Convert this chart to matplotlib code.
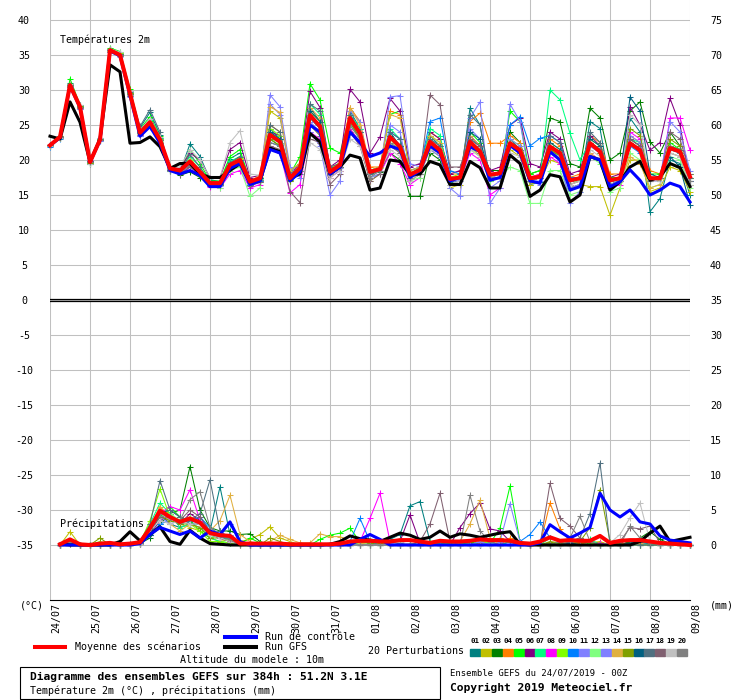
import numpy as np
import matplotlib
matplotlib.use("Agg")
import matplotlib.pyplot as plt
import matplotlib.transforms as mtransforms
from matplotlib.lines import Line2D
from matplotlib.patches import Rectangle

plt.rcParams['font.family'] = ['DejaVu Sans Mono']
plt.rcParams['font.size'] = 7.2

# echeances toutes les 6h sur 384h
hours = np.arange(0, 385, 6)
days = ["24/07", "25/07", "26/07", "27/07", "28/07", "29/07", "30/07", "31/07",
        "01/08", "02/08", "03/08", "04/08", "05/08", "06/08", "07/08", "08/08", "09/08"]

member_colors = ["#008080", "#c0c000", "#008000", "#ff8000", "#00ff00",
                 "#800080", "#00ff80", "#ff00ff", "#80ff00", "#0080ff",
                 "#8080ff", "#80ff80", "#8080ff", "#e0b040", "#80a000",
                 "#006080", "#507080", "#806070", "#c0c0c0", "#808080"]

# temperature 2m (degC)
temp_mean = [22.1, 23.3, 30.7, 27.6, 19.7, 22.9, 35.7, 35.0, 29.5, 23.9, 25.4, 22.9,
             18.8, 18.5, 19.8, 18.3, 16.7, 16.7, 19.3, 20.0, 16.9, 17.4,
             23.6, 22.6, 17.4, 18.9, 26.4, 24.8, 18.3, 19.3, 26.0, 23.8, 18.3, 18.7,
             23.3, 21.9, 17.9, 18.6, 22.6, 21.4, 17.3, 17.5, 22.6, 21.2, 17.9, 18.1,
             22.4, 21.4, 17.4, 17.6, 21.9, 21.0, 17.1, 17.4, 22.4, 21.2, 17.1, 17.4,
             22.4, 21.4, 17.4, 17.4, 21.7, 21.2, 17.6]
temp_ctrl = [22.1, 23.2, 30.6, 27.5, 19.7, 22.8, 35.6, 34.9, 29.2, 23.4, 24.8, 22.4,
             18.5, 18.0, 18.5, 17.8, 16.2, 16.2, 18.8, 19.5, 16.5, 17.0,
             21.5, 21.0, 17.0, 18.3, 25.0, 24.0, 18.0, 19.0, 24.0, 22.5, 20.5, 21.0,
             22.0, 21.5, 17.5, 18.5, 22.0, 21.0, 17.0, 17.5, 21.9, 21.2, 17.1, 17.5,
             22.1, 21.0, 17.0, 16.7, 21.2, 20.0, 15.7, 16.2, 20.5, 20.0, 16.2, 16.9,
             18.6, 17.1, 15.0, 15.7, 16.7, 16.2, 14.0]
temp_gfs = [23.4, 23.0, 28.3, 25.4, 19.7, 23.0, 33.6, 32.6, 22.4, 22.5, 23.3, 21.9,
            18.8, 19.5, 19.5, 18.0, 17.5, 17.5, 18.5, 19.5, 17.0, 17.0,
            21.7, 21.2, 17.4, 18.0, 23.8, 22.6, 18.0, 19.0, 20.7, 20.3, 15.7, 16.0,
            20.0, 19.8, 17.9, 18.0, 19.8, 19.3, 16.5, 16.5, 19.8, 18.9, 16.0, 16.0,
            20.7, 19.5, 14.8, 15.7, 17.9, 17.6, 14.0, 15.0, 20.5, 20.0, 15.7, 16.9,
            19.0, 19.8, 17.1, 17.6, 19.5, 18.9, 16.2]
temp_pert = [
    # 01
    [22.0, 23.1, 31.0, 27.9, 19.6, 23.1, 35.9, 35.3, 29.8, 24.6, 26.8, 23.6,
     18.5, 18.3, 22.3, 20.5, 17.2, 16.9, 20.2, 21.0, 17.2, 17.0,
     24.5, 23.0, 17.0, 18.0, 27.5, 25.5, 18.8, 19.0, 27.0, 24.5, 18.0, 18.5,
     24.0, 22.0, 17.5, 18.0, 23.5, 22.0, 16.8, 17.0, 27.4, 25.0, 17.0, 17.5,
     23.0, 21.5, 16.5, 16.8, 22.0, 20.5, 16.0, 16.5, 25.5, 24.5, 16.5, 17.0,
     26.0, 24.0, 12.6, 14.5, 20.0, 19.5, 15.0],
    # 02
    [22.2, 23.4, 30.5, 27.4, 19.9, 22.8, 35.6, 34.9, 29.3, 23.7, 25.0, 22.6,
     18.7, 18.0, 19.0, 18.0, 16.4, 16.5, 19.0, 19.5, 16.5, 17.0,
     27.0, 26.0, 18.5, 19.5, 25.0, 23.5, 17.5, 18.5, 24.5, 22.5, 17.0, 18.0,
     22.5, 21.0, 17.0, 18.0, 21.5, 20.5, 16.0, 16.5, 22.0, 20.5, 17.0, 17.5,
     21.5, 20.5, 16.5, 17.0, 20.0, 19.5, 16.0, 16.5, 16.2, 16.2, 12.1, 16.0,
     20.0, 20.0, 15.5, 16.0, 19.0, 18.5, 15.5],
    # 03
    [22.0, 23.2, 30.8, 27.7, 19.7, 22.9, 35.8, 35.2, 29.6, 24.0, 25.6, 23.0,
     18.9, 17.8, 18.3, 17.5, 16.5, 16.5, 18.8, 19.0, 16.5, 16.8,
     23.0, 22.0, 17.2, 18.5, 26.0, 24.5, 18.0, 19.0, 25.5, 23.0, 18.0, 18.3,
     21.0, 20.0, 14.8, 14.8, 21.0, 20.0, 17.0, 17.5, 23.0, 22.0, 18.5, 18.5,
     24.0, 22.5, 18.0, 18.5, 26.0, 25.5, 19.5, 19.0, 27.4, 26.0, 20.0, 21.0,
     27.0, 28.3, 22.6, 21.0, 24.0, 22.0, 17.0],
    # 04
    [22.1, 23.3, 30.6, 27.5, 19.8, 23.0, 35.7, 35.1, 29.5, 23.8, 25.3, 22.8,
     18.6, 18.3, 19.6, 18.2, 16.6, 16.6, 19.5, 20.5, 17.0, 17.5,
     25.0, 24.0, 17.5, 19.0, 27.0, 25.5, 18.5, 19.5, 27.5, 25.5, 19.0, 19.0,
     27.0, 26.5, 18.5, 19.0, 24.0, 23.0, 18.0, 18.0, 25.5, 26.7, 22.4, 22.4,
     23.5, 22.5, 17.5, 18.0, 23.0, 22.0, 17.5, 18.0, 23.5, 22.5, 18.0, 18.0,
     23.5, 22.5, 18.5, 18.0, 22.0, 21.5, 17.5],
    # 05
    [22.0, 23.1, 31.6, 27.9, 19.5, 23.0, 36.0, 35.5, 30.2, 24.4, 26.2, 23.4,
     18.8, 18.5, 21.5, 19.5, 17.0, 17.0, 20.5, 21.5, 16.8, 17.5,
     23.5, 22.5, 18.0, 20.5, 30.9, 28.6, 21.7, 21.0, 26.5, 24.0, 18.5, 19.0,
     26.5, 27.0, 18.0, 19.0, 23.0, 22.0, 17.5, 17.5, 24.0, 22.5, 17.5, 18.0,
     27.0, 25.5, 18.0, 18.5, 21.5, 20.5, 17.0, 17.0, 22.0, 21.5, 17.5, 17.5,
     23.0, 22.0, 18.0, 18.0, 22.5, 21.5, 18.0],
    # 06
    [22.2, 23.3, 30.7, 27.6, 19.8, 22.9, 35.6, 35.0, 29.4, 24.2, 25.8, 23.2,
     19.0, 18.8, 21.0, 20.0, 17.5, 17.5, 21.5, 22.5, 17.5, 17.8,
     24.0, 23.5, 18.0, 19.5, 29.8, 27.5, 19.0, 20.0, 30.1, 28.3, 21.0, 23.3,
     28.8, 27.0, 19.0, 19.5, 24.0, 23.0, 18.0, 18.5, 23.5, 22.0, 18.5, 19.0,
     25.0, 26.0, 19.5, 19.0, 24.0, 23.0, 18.0, 18.5, 23.5, 22.0, 17.5, 18.0,
     27.6, 25.0, 21.4, 22.5, 28.8, 25.0, 17.0],
    # 07
    [22.0, 23.2, 30.9, 27.7, 19.6, 23.0, 35.8, 35.2, 29.7, 24.1, 25.7, 23.1,
     18.7, 18.4, 20.5, 19.0, 16.8, 16.8, 19.8, 20.5, 16.9, 17.3,
     24.0, 23.0, 17.5, 19.0, 28.0, 26.5, 18.5, 19.5, 26.5, 24.5, 18.5, 19.0,
     24.5, 23.0, 17.5, 18.5, 24.5, 23.5, 17.0, 17.5, 23.0, 22.0, 17.5, 18.0,
     22.5, 21.5, 17.0, 17.5, 30.0, 28.6, 23.8, 20.0, 22.5, 21.5, 17.0, 17.5,
     23.0, 22.5, 17.5, 17.0, 21.5, 21.0, 17.5],
    # 08
    [22.1, 23.3, 30.6, 27.4, 19.7, 22.8, 35.7, 35.0, 29.3, 23.6, 25.0, 22.5,
     18.6, 18.0, 19.0, 17.8, 16.2, 16.0, 18.0, 18.5, 16.0, 16.5,
     22.0, 21.0, 15.3, 16.5, 24.0, 23.0, 17.5, 18.5, 24.5, 22.5, 17.5, 18.0,
     21.0, 19.5, 16.5, 17.5, 22.0, 21.0, 16.5, 17.0, 21.0, 20.0, 15.0, 16.0,
     22.5, 21.5, 17.5, 18.0, 20.5, 19.5, 16.5, 17.0, 21.0, 20.0, 16.0, 16.5,
     24.0, 23.0, 17.5, 17.0, 26.0, 26.0, 21.4],
    # 09
    [22.2, 23.4, 30.8, 27.6, 19.6, 23.0, 35.9, 35.3, 29.6, 24.0, 25.5, 23.0,
     18.9, 18.6, 20.0, 18.5, 16.8, 16.9, 19.4, 20.3, 17.0, 17.6,
     24.5, 23.5, 17.8, 19.2, 27.0, 25.5, 18.8, 19.6, 25.5, 23.5, 18.5, 18.8,
     23.0, 21.5, 18.0, 18.5, 23.5, 22.5, 17.5, 18.0, 22.5, 21.5, 18.0, 18.0,
     23.0, 22.0, 17.0, 17.5, 22.5, 21.5, 17.5, 17.5, 23.0, 22.0, 17.0, 17.5,
     22.5, 21.5, 17.0, 17.5, 22.0, 21.5, 18.0],
    # 10
    [21.9, 23.0, 30.5, 27.3, 19.8, 22.7, 35.5, 34.8, 29.2, 23.5, 24.8, 22.4,
     18.4, 18.2, 19.5, 18.0, 16.3, 16.4, 19.0, 19.8, 16.5, 17.0,
     22.5, 22.0, 17.5, 18.5, 26.0, 24.5, 18.0, 19.0, 25.0, 23.0, 18.0, 18.5,
     24.0, 23.0, 18.5, 19.0, 25.5, 26.0, 18.5, 18.0, 23.0, 22.0, 17.5, 18.0,
     25.0, 26.2, 22.0, 23.1, 23.5, 22.5, 17.5, 17.5, 22.5, 21.5, 17.0, 17.0,
     22.0, 21.0, 17.0, 17.5, 21.5, 21.0, 17.0],
    # 11
    [22.1, 23.2, 30.9, 27.8, 19.5, 23.1, 35.8, 35.1, 29.5, 23.9, 25.4, 22.8,
     18.6, 18.2, 19.4, 18.4, 16.5, 16.3, 19.2, 20.0, 16.6, 17.2,
     29.3, 27.6, 19.0, 17.5, 24.0, 22.0, 15.0, 17.0, 27.0, 25.5, 17.5, 18.0,
     29.0, 29.2, 19.5, 19.0, 21.5, 20.5, 16.0, 14.8, 26.0, 28.3, 13.8, 16.0,
     28.0, 25.5, 17.0, 16.5, 21.0, 20.0, 16.0, 16.5, 22.0, 21.0, 16.5, 17.0,
     22.5, 21.5, 17.0, 17.0, 21.0, 20.5, 16.5],
    # 12
    [22.0, 23.1, 30.7, 27.5, 19.6, 22.9, 35.6, 34.9, 29.3, 23.8, 25.2, 22.7,
     18.5, 18.2, 20.2, 18.6, 16.5, 16.0, 18.5, 19.0, 14.8, 16.0,
     23.0, 22.5, 17.0, 18.5, 26.5, 25.0, 18.0, 19.0, 25.0, 23.0, 17.5, 18.0,
     22.5, 21.0, 17.0, 17.5, 22.0, 21.0, 16.5, 17.0, 21.5, 20.5, 17.0, 17.5,
     19.0, 18.5, 13.8, 13.8, 18.5, 18.5, 15.0, 15.5, 20.5, 19.5, 15.5, 16.0,
     21.0, 20.0, 16.0, 16.5, 20.5, 20.0, 16.0],
    # 13
    [22.2, 23.3, 30.4, 27.3, 20.0, 22.7, 35.4, 34.7, 29.0, 23.4, 24.7, 22.3,
     18.7, 18.4, 19.2, 18.0, 16.4, 16.6, 19.5, 20.0, 16.8, 17.4,
     28.0, 26.5, 18.0, 19.0, 25.5, 24.0, 17.8, 18.8, 26.0, 23.5, 17.5, 18.0,
     25.0, 24.0, 17.5, 18.0, 23.0, 22.0, 17.0, 17.0, 24.5, 23.0, 16.0, 17.0,
     23.0, 22.0, 17.0, 17.0, 21.0, 20.0, 13.8, 15.5, 22.0, 21.0, 16.5, 17.0,
     23.5, 22.5, 17.5, 17.5, 25.5, 24.0, 18.5],
    # 14
    [22.1, 23.2, 30.6, 27.5, 19.7, 22.9, 35.6, 35.0, 29.4, 23.8, 25.2, 22.8,
     18.8, 18.4, 19.8, 18.4, 16.7, 16.8, 19.5, 20.2, 17.0, 17.8,
     27.6, 26.8, 18.5, 19.5, 27.5, 26.0, 19.0, 19.5, 27.5, 25.0, 18.5, 19.0,
     26.5, 26.0, 18.5, 19.0, 23.5, 22.5, 17.5, 17.5, 23.5, 22.0, 18.0, 18.0,
     22.0, 21.0, 17.0, 17.5, 22.0, 21.0, 17.0, 17.5, 21.0, 20.0, 16.5, 17.0,
     20.5, 19.5, 16.0, 16.5, 21.0, 20.5, 16.5],
    # 15
    [22.0, 23.2, 30.8, 27.7, 19.6, 22.9, 35.8, 35.1, 29.6, 24.0, 25.5, 22.9,
     18.8, 18.5, 19.6, 18.2, 16.6, 16.7, 19.0, 19.6, 16.7, 17.2,
     23.0, 22.0, 17.0, 18.5, 26.5, 25.0, 18.0, 19.0, 25.5, 23.0, 18.0, 18.5,
     23.5, 22.0, 17.5, 18.5, 22.5, 21.5, 17.0, 17.5, 22.0, 21.0, 17.5, 17.5,
     22.5, 21.5, 17.0, 17.5, 21.5, 20.5, 16.5, 17.0, 22.5, 21.0, 16.5, 17.0,
     24.5, 23.5, 17.5, 17.0, 23.0, 22.0, 17.5],
    # 16
    [22.1, 23.3, 30.7, 27.6, 19.7, 22.9, 35.7, 35.0, 29.5, 23.9, 25.3, 22.9,
     18.6, 18.3, 19.5, 18.3, 16.6, 16.6, 19.3, 20.0, 16.8, 17.4,
     24.0, 23.0, 17.5, 18.5, 27.0, 25.5, 18.5, 19.0, 26.0, 24.0, 18.0, 18.5,
     23.5, 22.0, 17.5, 18.5, 22.0, 21.0, 17.0, 17.5, 24.0, 23.0, 17.5, 17.5,
     22.0, 21.0, 17.0, 17.5, 22.5, 21.5, 17.0, 17.5, 23.0, 22.0, 16.5, 17.0,
     29.0, 27.0, 18.0, 17.5, 20.5, 19.0, 13.6],
    # 17
    [22.0, 23.2, 30.6, 27.6, 19.5, 23.0, 35.8, 35.2, 29.7, 24.8, 27.2, 24.0,
     18.6, 18.4, 20.8, 19.0, 16.8, 16.7, 19.6, 20.5, 17.0, 17.5,
     25.0, 24.0, 18.0, 19.0, 28.0, 27.0, 19.0, 19.5, 26.5, 24.0, 18.0, 18.5,
     24.0, 23.0, 18.0, 18.5, 23.0, 22.0, 17.5, 17.5, 26.5, 25.0, 17.5, 17.5,
     22.5, 21.5, 17.5, 17.5, 23.5, 22.5, 17.0, 17.5, 24.0, 22.5, 17.0, 17.5,
     23.0, 22.0, 17.0, 17.5, 22.0, 21.5, 17.5],
    # 18
    [22.2, 23.4, 30.5, 27.4, 19.9, 22.8, 35.5, 34.8, 29.2, 23.6, 24.9, 22.5,
     18.6, 18.0, 19.0, 18.0, 16.3, 16.4, 18.8, 19.5, 16.3, 16.8,
     22.0, 21.5, 15.5, 13.9, 23.0, 22.5, 16.5, 18.0, 24.0, 22.0, 17.0, 18.0,
     22.0, 21.0, 17.0, 18.0, 29.3, 27.9, 19.0, 19.0, 23.0, 22.0, 18.0, 18.0,
     22.0, 21.0, 17.0, 17.5, 22.0, 21.0, 17.0, 17.5, 22.5, 21.5, 17.0, 17.5,
     23.0, 22.0, 17.5, 17.5, 24.0, 23.0, 18.0],
    # 19
    [22.0, 23.1, 30.8, 27.8, 19.4, 23.1, 35.9, 35.4, 29.9, 24.3, 25.9, 23.3,
     18.9, 19.0, 21.5, 20.0, 17.5, 17.5, 22.5, 24.2, 18.0, 17.8,
     21.5, 21.0, 17.5, 18.5, 22.5, 21.5, 17.5, 18.5, 23.0, 22.0, 17.5, 18.5,
     21.5, 20.5, 17.0, 18.0, 21.5, 21.0, 16.5, 17.0, 21.5, 20.5, 17.5, 18.0,
     21.0, 20.5, 17.0, 17.5, 21.0, 20.5, 16.5, 17.0, 21.5, 20.5, 16.5, 17.0,
     26.5, 25.0, 17.0, 17.0, 21.0, 20.5, 16.5],
    # 20
    [22.1, 23.3, 30.7, 27.6, 19.7, 22.9, 35.7, 35.0, 29.5, 23.9, 25.3, 22.8,
     18.5, 18.2, 19.2, 18.0, 16.5, 16.5, 19.0, 19.8, 16.7, 17.2,
     22.5, 22.0, 17.5, 18.5, 25.0, 23.5, 18.0, 19.0, 25.0, 23.0, 17.5, 18.5,
     22.5, 21.5, 17.5, 18.0, 22.5, 21.5, 17.0, 17.5, 22.0, 21.0, 17.5, 17.5,
     22.5, 21.5, 17.0, 17.5, 22.0, 21.0, 17.0, 17.5, 22.5, 21.5, 17.0, 17.5,
     22.5, 21.5, 17.0, 17.5, 22.0, 21.0, 17.0],
]

# precipitations (mm / 6h), a partir de +6h
rain_mean = [0.1, 0.8, 0.1, 0.0, 0.2, 0.3, 0.1, 0.2, 0.4,
             2.4, 4.9, 4.0, 3.3, 3.8, 3.2, 1.7, 1.4, 1.3, 0.2,
             0.2, 0.2, 0.2, 0.2, 0.1, 0.1, 0.1, 0.1, 0.1, 0.2,
             0.5, 0.6, 0.6, 0.5, 0.5, 0.7, 0.7, 0.5, 0.3, 0.6,
             0.5, 0.5, 0.6, 0.8, 0.7, 0.7, 0.6, 0.3, 0.2, 0.5,
             1.1, 0.6, 0.7, 0.6, 0.6, 1.3, 0.3, 0.6, 0.7, 0.7,
             0.5, 0.3, 0.2, 0.1, 0.0]
rain_ctrl = [0, 0, 0, 0, 0, 0, 0, 0, 0.2,
             1.5, 2.5, 2.0, 1.5, 2.0, 1.0, 2.0, 1.5, 3.3, 0.5,
             0, 0, 0, 0, 0, 0, 0, 0, 0, 0,
             0, 0.8, 1.5, 0.8, 0, 0, 0, 0, 0, 0,
             0, 0, 0, 0, 0, 0, 0, 0, 0, 0.3,
             2.9, 1.9, 1.0, 1.7, 2.5, 7.4, 5.0, 4.0, 5.0, 3.3,
             3.0, 1.3, 0.7, 0.5, 0.3]
rain_gfs = [0.1, 0, 0, 0, 0, 0, 0.5, 1.9, 0.6,
            1.5, 2.6, 0.5, 0.1, 2.1, 1.0, 0.2, 0.1, 0, 0,
            0, 0, 0, 0, 0, 0, 0, 0, 0.1, 0.5,
            1.3, 0.9, 0.7, 0.5, 1.1, 1.7, 1.4, 0.8, 1.1, 2.0,
            1.1, 1.6, 1.4, 1.1, 1.4, 1.7, 1.9, 0.1, 0, 0,
            0, 0, 0, 0, 0, 0, 0, 0, 0, 0.5,
            1.7, 2.7, 0.5, 0.8, 1.1]
rain_pert = [
    # 01
    [0, 0.5, 0, 0, 0, 0, 0, 0.2, 0.3, 1.5, 4.5, 3.0, 2.5, 3.0, 4.0, 2.0, 8.3, 1.5, 0.2,
     0, 0, 0.3, 0, 0, 0, 0, 0, 0, 0, 0, 0.2, 0.3, 0.5, 0.8, 1.5, 5.6, 6.2, 0.5, 0.2,
     0, 0, 0.3, 0.2, 0, 0, 0.5, 0, 0, 0, 0.3, 0, 0, 0.5, 0.5, 0.3, 0, 0, 0.5, 0.3,
     0.2, 0, 0, 0, 0],
    # 02
    [0, 1.9, 0, 0, 0.3, 0, 0, 0, 0.5, 2.0, 5.0, 4.5, 3.0, 2.5, 2.0, 1.0, 0.5, 0.8, 0.5,
     0.8, 1.5, 2.6, 1.0, 0.5, 0, 0, 0, 0, 0, 0, 0.3, 0.5, 0.3, 0, 0, 0.2, 0, 0, 0.3,
     0, 0.3, 0.2, 0, 0, 1.0, 0.5, 0, 0, 0, 0.2, 0.5, 0, 0.5, 0.3, 0.5, 0, 0, 0.3, 0,
     0, 0.2, 0, 0, 0],
    # 03
    [0, 0.3, 0, 0, 0, 0, 0, 0, 0.2, 1.0, 3.0, 4.5, 5.0, 11.2, 5.0, 2.5, 2.0, 2.0, 1.5,
     1.6, 0.5, 0, 0, 0, 0, 0, 0, 0, 0, 0, 0, 0, 0, 0.2, 0, 0, 0, 0, 0,
     0, 0, 0, 0.5, 0.3, 0, 0, 0, 0, 0, 0, 0, 0.5, 0.3, 0.3, 0, 0, 0, 0.5, 1.0,
     1.9, 0.8, 0.2, 0, 0],
    # 04
    [0, 0.3, 0, 0, 0, 0, 0, 0, 0.4, 2.5, 5.5, 4.0, 3.5, 4.0, 3.0, 1.5, 1.0, 0.5, 0,
     0, 0, 0, 0, 0, 0.3, 0, 0, 0, 0, 0, 0, 0.5, 0, 0, 0, 0, 0, 0, 0,
     0, 0, 0, 0.3, 0.5, 0, 1.0, 0.3, 0, 0, 6.0, 2.3, 0.5, 0.3, 0, 0, 0, 0.3, 0, 0,
     0, 0, 0, 0, 0],
    # 05
    [0, 0.5, 0, 0, 0, 0, 0, 0, 0.3, 2.0, 4.0, 5.5, 4.0, 3.5, 2.0, 1.0, 1.5, 0.5, 0.2,
     1.0, 0.3, 0, 0, 0, 0, 0, 0.8, 1.4, 1.7, 2.4, 0.5, 0.3, 0, 0, 0, 0, 0.5, 0, 0,
     0.3, 0, 0.5, 0, 0.2, 2.4, 8.4, 0.5, 0, 0, 0, 0, 0.5, 1.0, 0.3, 0, 0, 0, 0, 0,
     0, 0, 0, 0, 0],
    # 06
    [0, 0.2, 0, 0, 0, 0, 0, 0, 0.2, 1.5, 3.5, 4.0, 3.0, 4.5, 3.5, 2.0, 1.0, 0.5, 0.2,
     0, 0, 0, 0, 0, 0, 0, 0, 0, 0, 0, 0, 0.3, 0.5, 0, 0.5, 4.3, 0.3, 0, 0.2,
     0, 2.5, 4.5, 6.0, 2.3, 2.0, 0.5, 0, 0, 0, 0, 0.3, 0, 0, 0, 0, 0, 0, 0, 0,
     0, 0, 0, 0, 0],
    # 07
    [0, 0.3, 0, 0, 0, 0, 0, 0, 0.5, 3.0, 6.0, 4.5, 2.5, 3.0, 2.5, 1.0, 0.5, 0.3, 0,
     0, 0, 0, 0, 0, 0, 0, 0, 0, 0, 0, 0.3, 0, 0, 0.3, 0, 0, 0, 0.5, 0,
     0, 0, 0, 0, 0.5, 0, 0.5, 0, 0, 0, 1.0, 0.5, 0, 0.5, 0.8, 0, 0, 0, 0, 0,
     0, 0, 0, 0, 0],
    # 08
    [0, 0.3, 0, 0, 0, 0, 0, 0, 0.2, 2.0, 4.5, 5.5, 5.0, 7.9, 3.5, 1.5, 1.0, 0.5, 0,
     0, 0, 0, 0, 0, 0, 0, 0, 0, 0, 0, 0.5, 3.8, 7.4, 0.5, 0, 0, 0, 0, 0,
     0, 0, 0, 0, 0, 0, 0, 0.3, 0, 0, 0, 0, 0, 0, 0, 0.3, 0, 0, 0, 0,
     0, 0, 0, 0, 0],
    # 09
    [0, 0.5, 0, 0, 0.5, 0, 0, 0, 0.3, 3.5, 8.0, 4.0, 3.5, 3.0, 2.0, 0.5, 0.5, 0.3, 0,
     0, 0, 0.5, 0, 0, 0, 0, 0, 0, 0, 0, 0, 0, 0, 0, 0, 0, 0.5, 0.3, 0,
     0, 0, 0, 0.5, 0.3, 0, 0, 0, 0, 0, 0, 0.3, 0.5, 0.8, 0.3, 0, 0, 0, 0, 0,
     0, 0, 0, 0, 0],
    # 10
    [0, 0.2, 0, 0, 0, 0, 0, 0, 0.2, 1.5, 3.0, 3.5, 3.0, 3.5, 4.0, 2.5, 1.5, 3.0, 0.3,
     0, 0, 0, 0, 0, 0, 0, 0, 0, 0, 0.5, 3.8, 0.5, 0, 0, 0, 0, 0, 0, 0,
     0, 0, 0, 0, 0, 0, 0, 0.5, 1.5, 3.3, 1.0, 0.5, 0, 0, 0, 0, 0, 0, 0, 0,
     0, 0, 0, 0, 0],
    # 11
    [0, 0.3, 0, 0, 0, 0, 0, 0, 0.3, 2.0, 4.0, 3.0, 3.5, 3.0, 2.5, 1.5, 1.0, 1.0, 0.2,
     0, 0, 0, 0, 0, 0, 0, 0, 0, 0, 0, 0, 0, 0, 0.3, 0, 0, 0, 0, 0,
     0, 0, 0, 0, 0, 0.5, 5.9, 0.5, 0, 0, 0, 0, 0, 0, 0, 0, 0, 0, 0, 0,
     0, 0, 0, 0, 0],
    # 12
    [0, 0.5, 0, 0, 0, 0, 0, 0, 0.3, 2.5, 4.0, 4.5, 3.5, 4.0, 3.0, 1.0, 1.5, 0.5, 0,
     0, 0, 0, 0, 0, 0, 0, 0, 0, 0, 0, 0.5, 0, 0, 0, 0.3, 0, 0, 0, 0,
     0, 0, 0, 0, 0.3, 0, 0, 0, 0, 0, 0, 0.5, 0.3, 0.8, 0.5, 0, 0, 0, 0, 0,
     0, 0, 0, 0, 0],
    # 13
    [0, 0.3, 0, 0, 0, 0, 0, 0, 0.2, 2.0, 5.0, 3.5, 3.0, 3.5, 3.0, 2.0, 1.5, 1.5, 0.3,
     0, 0, 0, 0, 0, 0, 0, 0, 0, 0, 0, 0, 0, 0, 0, 0, 0, 0, 0, 0,
     0, 0, 0, 0.5, 0, 0, 0, 0, 0, 0, 0, 0, 0.3, 0, 0, 0, 0, 0, 0, 0.3,
     0.5, 0, 0, 0, 0],
    # 14
    [0, 0.2, 0, 0, 0, 0, 0, 0, 0.3, 2.5, 5.5, 3.0, 2.0, 3.0, 2.5, 2.0, 3.5, 7.1, 1.5,
     0.5, 0, 0.5, 1.4, 0.8, 0.3, 0.3, 1.6, 1.2, 1.2, 0.5, 0.3, 0, 0, 0, 0, 0, 0, 0, 0,
     0, 0.5, 3.0, 6.4, 1.0, 0, 0, 0, 0, 0, 0, 0, 0, 0, 0, 0, 0, 0, 0, 0.3,
     0.5, 0, 0, 0, 0],
    # 15
    [0, 0.5, 0, 0, 1.0, 0, 0, 0, 0.2, 2.0, 4.0, 3.5, 3.0, 3.0, 2.5, 1.0, 1.0, 0.5, 0.2,
     0.3, 0, 1.0, 0.5, 0, 0, 0, 0, 0, 0, 0, 0.5, 0.3, 0.3, 0.5, 0.3, 0, 0, 0, 0.3,
     0, 0, 0, 0, 0, 0, 0, 0, 0, 0, 0.5, 0.3, 0, 0.5, 2.5, 7.9, 0.5, 0, 0, 0,
     0, 0, 0, 0, 0],
    # 16
    [0, 0.3, 0, 0, 0, 0, 0, 0, 0.3, 1.5, 4.5, 5.0, 4.0, 3.0, 3.0, 1.5, 1.0, 1.0, 0.3,
     0, 0, 0, 0, 0, 0, 0, 0, 0, 0, 0, 0, 0, 0, 0, 0, 0, 0, 0, 0,
     0, 0, 0, 0, 0, 0, 0, 0, 0, 0, 0, 0, 0.3, 0, 0, 0, 0, 0, 0.3, 0.5,
     0.3, 0, 0, 0, 0],
    # 17
    [0, 0.3, 0, 0, 0, 0, 0, 0, 0.4, 3.0, 9.2, 5.0, 4.0, 3.5, 4.5, 9.3, 2.0, 1.0, 0.3,
     0, 0, 0, 0, 0, 0, 0, 0, 0, 0, 0, 0, 0, 0, 0, 0.3, 0, 0, 0, 0,
     0, 0, 0, 0, 0, 0, 0, 0, 0, 0, 0, 0, 0.5, 1.0, 4.5, 11.7, 0.2, 0, 0, 0,
     0, 0, 0, 0, 0],
    # 18
    [0, 0.3, 0, 0, 0, 0, 0, 0, 0.2, 2.0, 4.0, 4.0, 3.5, 5.0, 4.0, 2.0, 1.0, 0.5, 0.2,
     0, 0, 0, 0, 0, 0, 0, 0, 0, 0, 0, 0, 0, 0, 0, 0, 0, 0.5, 3.0, 7.4,
     0.5, 0, 0, 0, 0, 0, 0, 0, 0, 0, 8.8, 3.8, 2.7, 1.0, 0.5, 0, 0, 0.5, 2.5, 2.3,
     2.7, 0.3, 0, 0, 0],
    # 19
    [0, 0.5, 0, 0, 0, 0, 0, 0, 0.2, 2.0, 3.5, 3.0, 3.5, 3.0, 3.0, 1.5, 1.0, 0.5, 0,
     0, 0, 0, 0, 0, 0, 0, 0, 0, 0, 0, 0, 0, 0, 0, 0.5, 0, 0, 0, 0,
     0, 0, 0, 0, 0, 0, 0, 0, 0, 0, 0, 0, 0, 0, 0, 0, 0.3, 1.5, 3.9, 6.0,
     0.5, 0, 0, 0, 0],
    # 20
    [0, 0.5, 0, 0, 0, 0, 0, 0, 0.3, 2.5, 4.5, 4.0, 3.5, 6.5, 7.6, 2.5, 1.5, 0.8, 0,
     0, 0, 0, 0, 0, 0, 0, 0, 0, 0, 0, 0, 0, 0, 0, 0, 0, 0, 0, 0,
     0, 0, 7.1, 2.0, 0.5, 0, 0, 0, 0, 0, 0, 0.5, 1.0, 4.1, 0.5, 0, 0, 0, 2.7, 1.0,
     0.3, 0, 0, 0, 0],
]

W, H = 740, 700
fig = plt.figure(figsize=(W / 100, H / 100), dpi=100)
ax = fig.add_axes([50 / W, 100 / H, 640 / W, 600 / H])
ax.set_xlim(0, 384)
ax.set_ylim(-300 / 7, 300 / 7)
ax2 = ax.twinx()
ax2.set_ylim(35 - 300 / 7, 35 + 300 / 7)

for s in ["top", "left", "right"]:
    ax.spines[s].set_visible(False)
for s in ax2.spines.values():
    s.set_visible(False)
ax.spines["bottom"].set_color("black")
ax.spines["bottom"].set_linewidth(0.8)

ax.set_xticks(np.arange(0, 385, 24))
ax.set_xticklabels([])
ax.set_yticks(np.arange(-35, 41, 5))
ax.set_yticklabels([str(v) for v in range(-35, 41, 5)])
ax.grid(color="#c0c0c0", lw=0.75)
ax.set_axisbelow(True)
ax.tick_params(length=0)
ax.tick_params(axis="y", pad=18.7)
for lab in ax.get_yticklabels():
    lab.set_horizontalalignment("center")
ax2.set_yticks(np.arange(0, 76, 5))
ax2.tick_params(length=0, pad=14.4)

ax.axhline(0.2, color="black", lw=0.9)
ax.axhline(-0.2, color="black", lw=0.9)

# temperatures
for k, vals in enumerate(temp_pert):
    ax.plot(hours, vals, color=member_colors[k], lw=0.75, marker="+", ms=4,
            mew=0.75, clip_on=False)
ax.plot(hours, temp_gfs, color="black", lw=2.2, clip_on=False)
ax.plot(hours, temp_ctrl, color="#0000ff", lw=2.2, clip_on=False)
ax.plot(hours, temp_mean, color="#ff0000", lw=2.9, clip_on=False)

# precipitations
for k, vals in enumerate(rain_pert):
    ax2.plot(hours[1:], vals, color=member_colors[k], lw=0.75, marker="+", ms=4,
             mew=0.75, clip_on=False)
ax2.plot(hours[1:], rain_gfs, color="black", lw=2.2, clip_on=False)
ax2.plot(hours[1:], rain_ctrl, color="#0000ff", lw=2.2, clip_on=False)
ax2.plot(hours[1:], rain_mean, color="#ff0000", lw=2.9, clip_on=False)

# dates sous l'axe
trans = mtransforms.blended_transform_factory(ax.transData, fig.transFigure) + \
    mtransforms.ScaledTranslation(6 / 100, 0, fig.dpi_scale_trans)
for d, lab in enumerate(days):
    ax.text(d * 24, 1 - 603 / H, lab, transform=trans, rotation=90,
            ha="center", va="top")

def px(x, y):
    return x / W, 1 - y / H

fig.text(*px(60, 40), "Températures 2m", va="center", zorder=5)
fig.text(*px(60, 524), "Précipitations", va="center", zorder=5)
fig.text(*px(20, 606), "(°C)", va="center")
fig.text(*px(710, 606), "(mm)", va="center")

# legende
fig.add_artist(Line2D([35 / W, 65 / W], [1 - 647 / H] * 2, color="#ff0000", lw=2.9))
fig.add_artist(Line2D([225 / W, 256 / W], [1 - 637 / H] * 2, color="#0000ff", lw=2.9))
fig.add_artist(Line2D([225 / W, 256 / W], [1 - 647 / H] * 2, color="black", lw=2.9))
fig.text(*px(75, 647), "Moyenne des scénarios", va="center")
fig.text(*px(265, 637), "Run de contrôle", va="center")
fig.text(*px(265, 647), "Run GFS", va="center")
fig.text(*px(180, 660), "Altitude du modele : 10m", va="center")

fig.add_artist(Rectangle(px(20, 699), 420 / W, 32 / H, fill=False, ec="black",
                         lw=0.8, transform=fig.transFigure))
fig.text(*px(30, 677), "Diagramme des ensembles GEFS sur 384h : 51.2N 3.1E",
         va="center", fontsize=8.1, fontweight="bold")
fig.text(*px(30, 691), "Température 2m (°C) , précipitations (mm)", va="center")

fig.text(*px(368, 651), "20 Perturbations", va="center")
for k, c in enumerate(member_colors):
    x0 = 470 + k * 10.9
    fig.add_artist(Rectangle(px(x0, 656), 10 / W, 7 / H, color=c,
                             transform=fig.transFigure))
    fig.text(*px(x0 + 5, 641), "%02d" % (k + 1), va="center", ha="center",
             fontsize=5.3, fontweight="bold")

fig.text(*px(450, 673), "Ensemble GEFS du 24/07/2019 - 00Z", va="center", fontsize=6.4)
fig.text(*px(450, 688), "Copyright 2019 Meteociel.fr", va="center",
         fontsize=8.1, fontweight="bold")

fig.savefig("out.png", dpi=100)
